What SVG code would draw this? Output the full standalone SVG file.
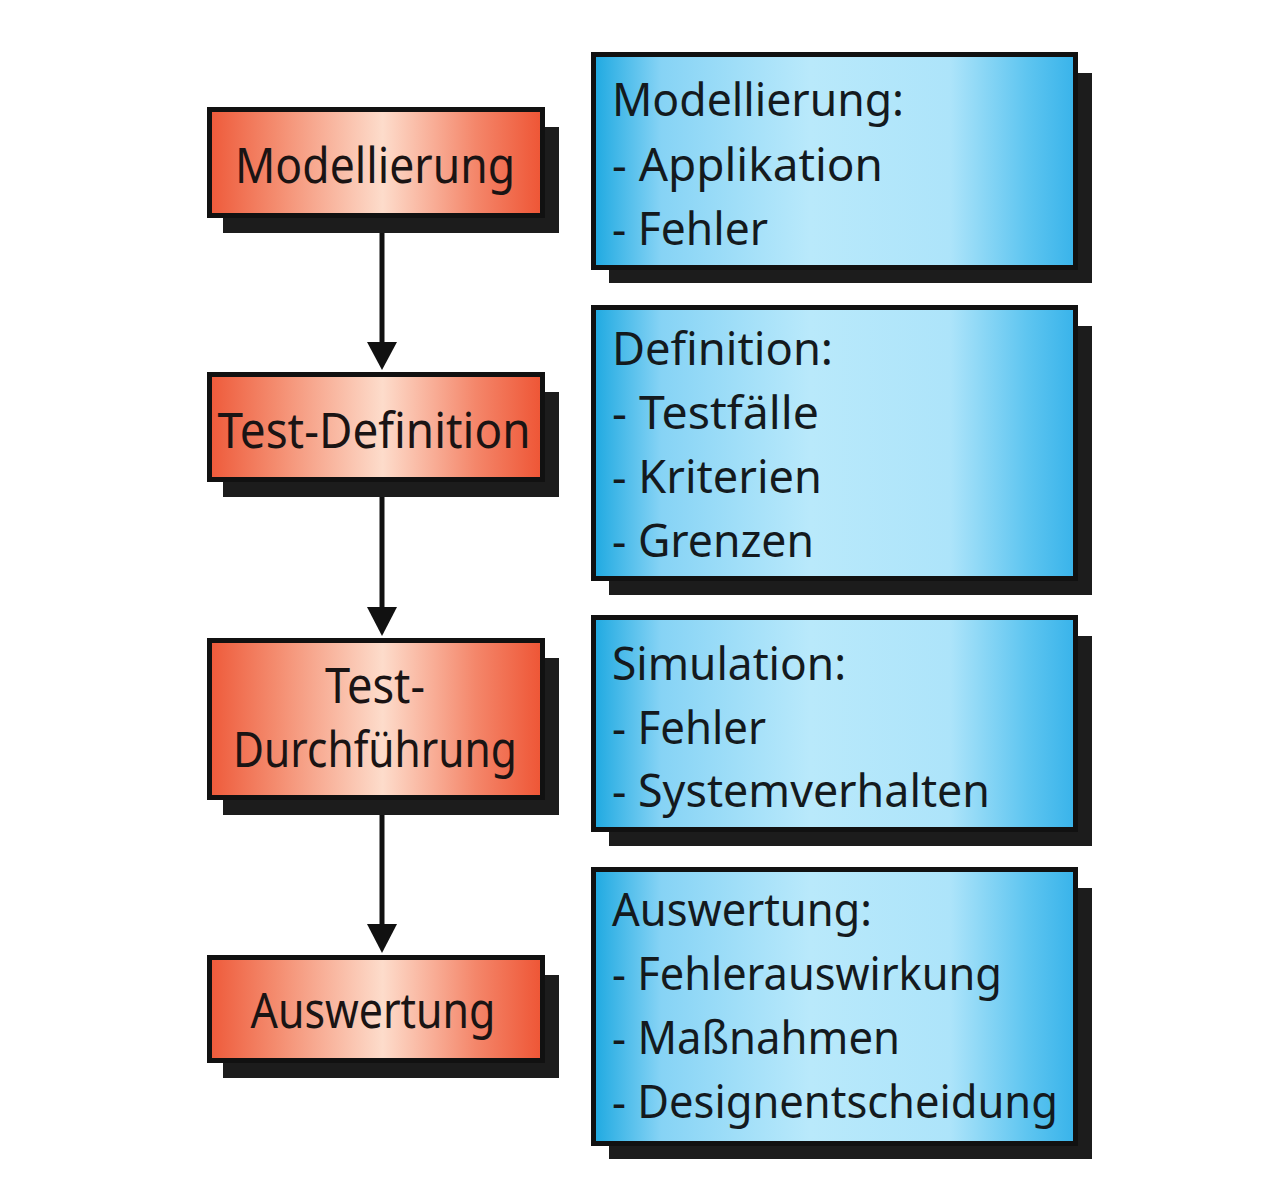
<svg xmlns="http://www.w3.org/2000/svg" width="1280" height="1190" viewBox="0 0 1280 1190">
<defs>
<linearGradient id="gRed" x1="0" y1="0" x2="1" y2="0">
<stop offset="0" stop-color="#EE5A3A"/>
<stop offset="0.2" stop-color="#F48C6F"/>
<stop offset="0.52" stop-color="#FDDCCB"/>
<stop offset="0.8" stop-color="#F4866A"/>
<stop offset="1" stop-color="#EE5535"/>
</linearGradient>
<linearGradient id="gBlue" x1="0" y1="0" x2="1" y2="0">
<stop offset="0" stop-color="#1EA9E1"/>
<stop offset="0.14" stop-color="#86D3F5"/>
<stop offset="0.45" stop-color="#B9E9FB"/>
<stop offset="0.74" stop-color="#ADE4FA"/>
<stop offset="0.9" stop-color="#5EC5F0"/>
<stop offset="1" stop-color="#38B3EA"/>
</linearGradient>
</defs>
<style>
.sh{fill:#1c1c1c}
.red{fill:url(#gRed);stroke:#111;stroke-width:5}
.blue{fill:url(#gBlue);stroke:#111;stroke-width:5}
.rt{font-family:"Noto Sans","Open Sans",sans-serif;font-size:50px;fill:#1a1414;text-anchor:middle}
.bt{font-family:"Noto Sans","Open Sans",sans-serif;font-size:46px;fill:#141a1e}
.conn{stroke:#111;stroke-width:5;fill:none}
.head{fill:#111}
</style>
<rect width="1280" height="1190" fill="#ffffff"/>

<g id="connectors">
<line class="conn" x1="382" y1="233" x2="382" y2="346"/>
<polygon class="head" points="367,342 397,342 382,370"/>
<line class="conn" x1="382" y1="497" x2="382" y2="611"/>
<polygon class="head" points="367,607 397,607 382,636"/>
<line class="conn" x1="382" y1="815" x2="382" y2="928"/>
<polygon class="head" points="367,924 397,924 382,953"/>
</g>

<g id="node-modellierung">
<rect class="sh" x="223" y="127" width="336" height="106"/>
<rect class="red" x="209.5" y="109.5" width="333" height="106"/>
<text class="rt" x="375" y="183" textLength="280" lengthAdjust="spacingAndGlyphs">Modellierung</text>
</g>
<g id="node-test-definition">
<rect class="sh" x="223" y="392" width="336" height="105"/>
<rect class="red" x="209.5" y="374.5" width="333" height="105"/>
<text class="rt" x="374" y="448" textLength="313" lengthAdjust="spacingAndGlyphs">Test-Definition</text>
</g>
<g id="node-test-durchfuehrung">
<rect class="sh" x="223" y="658" width="336" height="157"/>
<rect class="red" x="209.5" y="640.5" width="333" height="157"/>
<text class="rt" x="375" y="703" textLength="100" lengthAdjust="spacingAndGlyphs">Test-</text>
<text class="rt" x="375" y="767" textLength="284" lengthAdjust="spacingAndGlyphs">Durchführung</text>
</g>
<g id="node-auswertung">
<rect class="sh" x="223" y="975" width="336" height="103"/>
<rect class="red" x="209.5" y="957.5" width="333" height="103"/>
<text class="rt" x="373" y="1028" textLength="245" lengthAdjust="spacingAndGlyphs">Auswertung</text>
</g>

<g id="info-modellierung">
<rect class="sh" x="609" y="73" width="483" height="210"/>
<rect class="blue" x="593.5" y="54.5" width="482" height="213"/>
<text class="bt" x="612" y="116" textLength="292" lengthAdjust="spacingAndGlyphs">Modellierung:</text>
<text class="bt" x="612" y="181" textLength="271" lengthAdjust="spacingAndGlyphs">- Applikation</text>
<text class="bt" x="612" y="245" textLength="156" lengthAdjust="spacingAndGlyphs">- Fehler</text>
</g>
<g id="info-definition">
<rect class="sh" x="609" y="326" width="483" height="269"/>
<rect class="blue" x="593.5" y="307.5" width="482" height="271"/>
<text class="bt" x="612" y="365" textLength="221" lengthAdjust="spacingAndGlyphs">Definition:</text>
<text class="bt" x="612" y="429" textLength="207" lengthAdjust="spacingAndGlyphs">- Testfälle</text>
<text class="bt" x="612" y="493" textLength="210" lengthAdjust="spacingAndGlyphs">- Kriterien</text>
<text class="bt" x="612" y="557" textLength="202" lengthAdjust="spacingAndGlyphs">- Grenzen</text>
</g>
<g id="info-simulation">
<rect class="sh" x="609" y="636" width="483" height="210"/>
<rect class="blue" x="593.5" y="617.5" width="482" height="212"/>
<text class="bt" x="612" y="680" textLength="234" lengthAdjust="spacingAndGlyphs">Simulation:</text>
<text class="bt" x="612" y="744" textLength="154" lengthAdjust="spacingAndGlyphs">- Fehler</text>
<text class="bt" x="612" y="807" textLength="378" lengthAdjust="spacingAndGlyphs">- Systemverhalten</text>
</g>
<g id="info-auswertung">
<rect class="sh" x="609" y="888" width="483" height="271"/>
<rect class="blue" x="593.5" y="869.5" width="482" height="274"/>
<text class="bt" x="612" y="926" textLength="260" lengthAdjust="spacingAndGlyphs">Auswertung:</text>
<text class="bt" x="612" y="990" textLength="390" lengthAdjust="spacingAndGlyphs">- Fehlerauswirkung</text>
<text class="bt" x="612" y="1054" textLength="288" lengthAdjust="spacingAndGlyphs">- Maßnahmen</text>
<text class="bt" x="612" y="1118" textLength="446" lengthAdjust="spacingAndGlyphs">- Designentscheidung</text>
</g>
</svg>
